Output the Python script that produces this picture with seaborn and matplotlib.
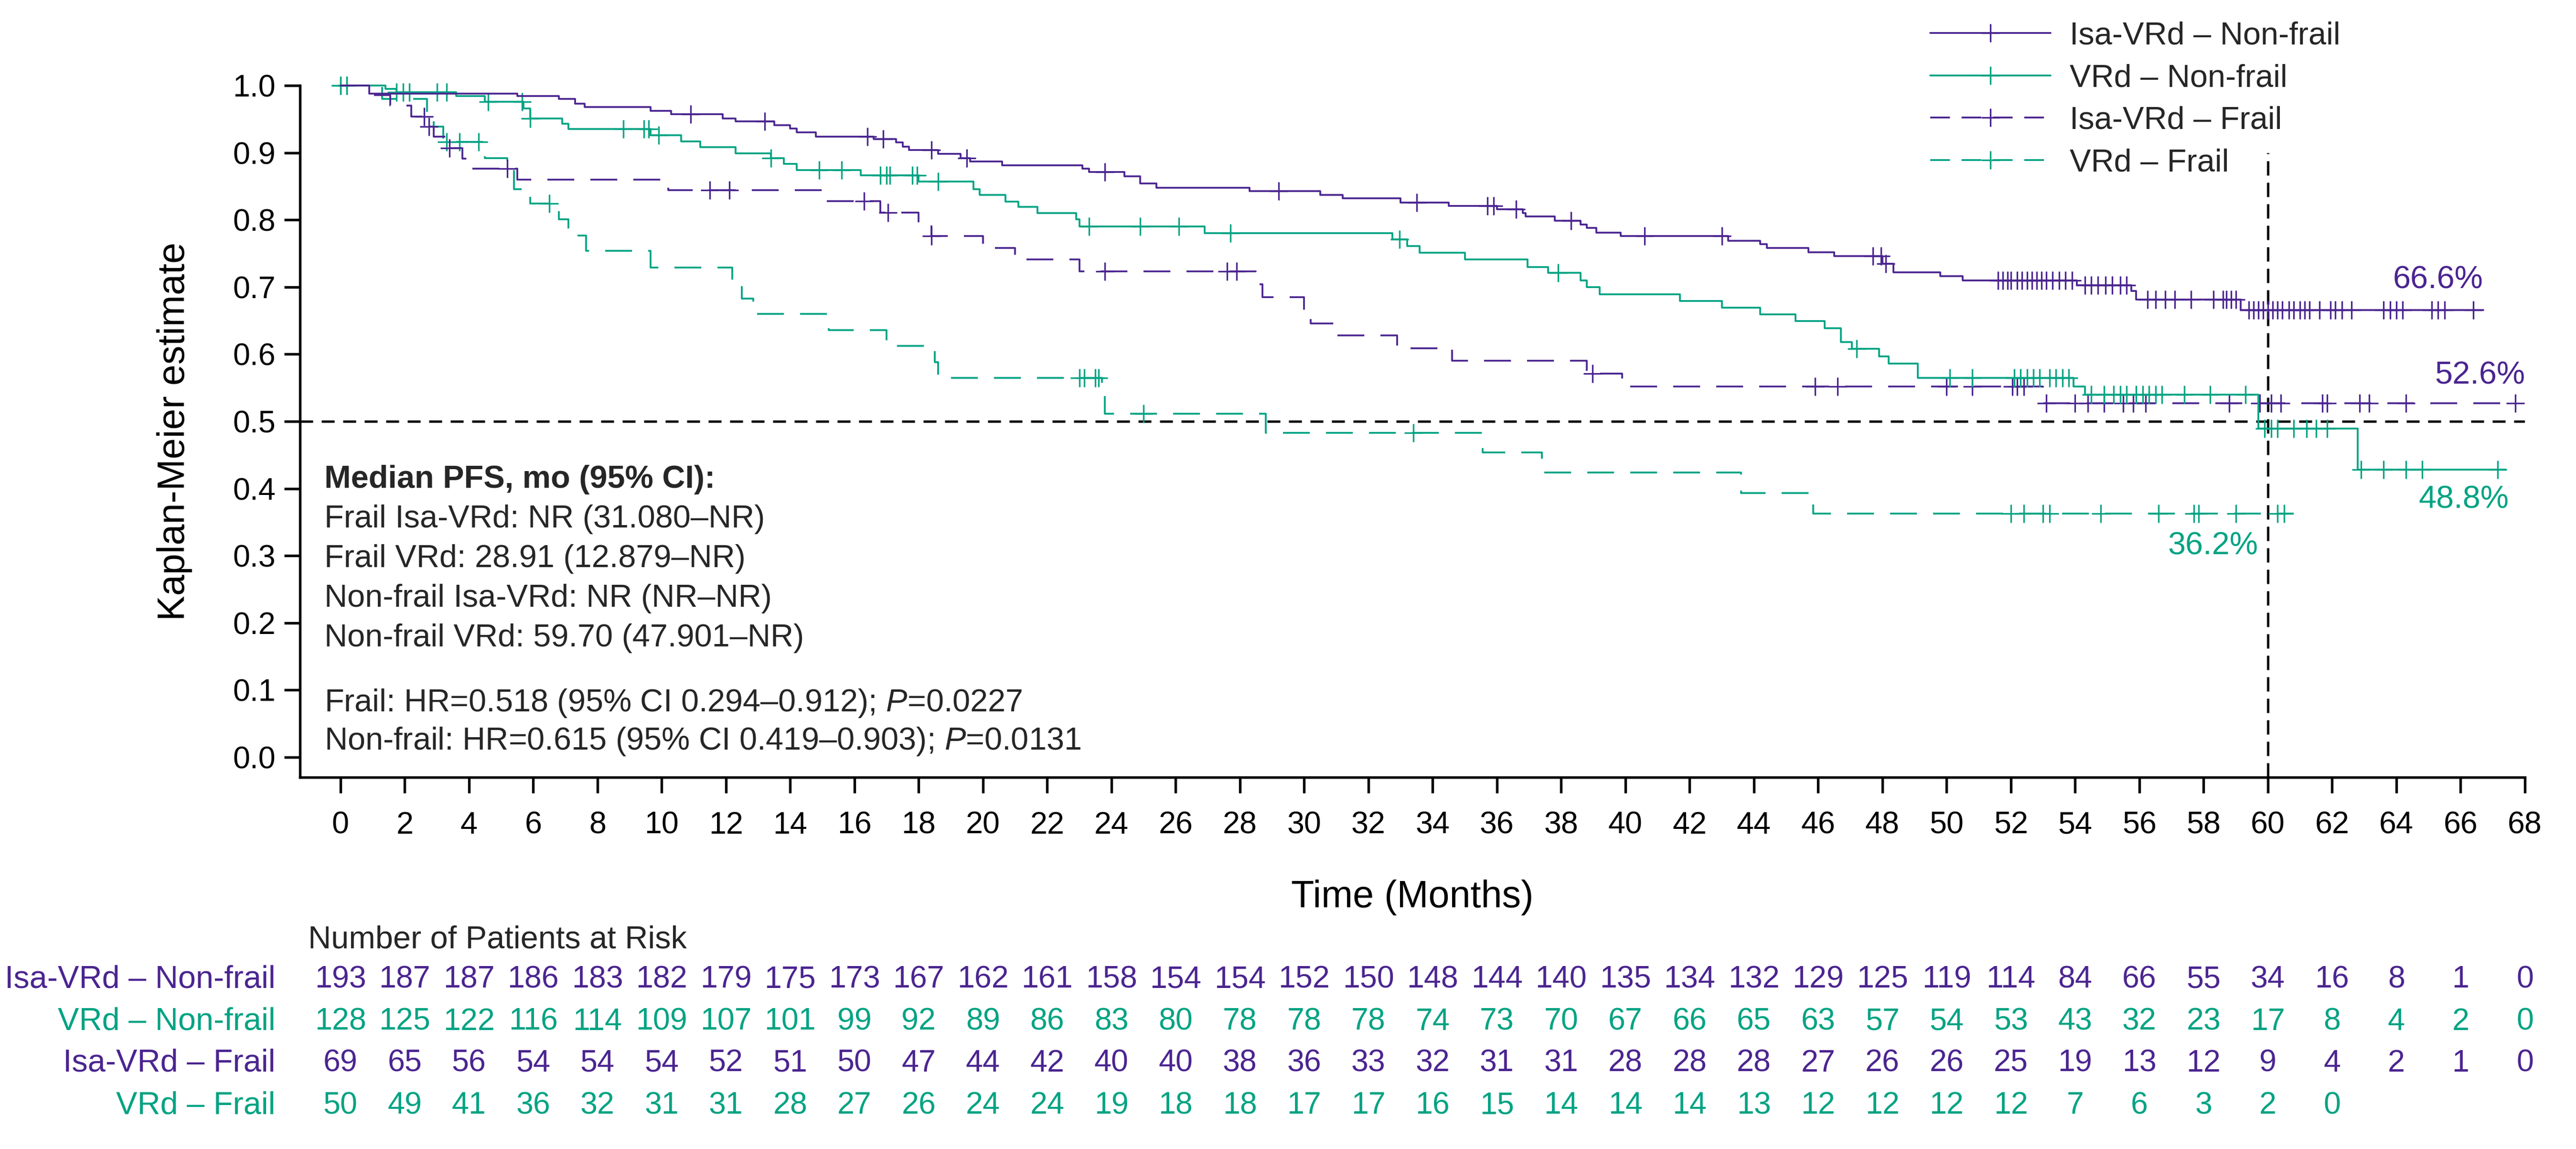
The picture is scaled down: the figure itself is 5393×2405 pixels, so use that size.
import numpy as np
import matplotlib
matplotlib.use("Agg")
import matplotlib.pyplot as plt
from matplotlib.lines import Line2D
from matplotlib.ticker import FormatStrFormatter
import seaborn as sns

sns.set_theme(style="ticks")
plt.rcParams['font.family'] = ['Liberation Sans', 'DejaVu Sans']
plt.rcParams['mathtext.fontset'] = 'custom'
plt.rcParams['mathtext.rm'] = 'Liberation Sans'
plt.rcParams['mathtext.it'] = 'Liberation Sans:italic'

PURPLE = '#4b2590'
TEAL = '#00a383'

# ---- KM curves (months, survival) ----
inv_nf_t = [0, 0.9, 5.5, 6.8, 7.3, 7.6, 9.65, 10.3, 11.9, 12.3, 13.5, 14.0, 14.2, 14.8, 16.6,
            17.3, 17.5, 17.7, 18.6, 19.3, 19.6, 20.6, 23.1, 23.3, 24.4, 24.9, 25.4, 28.3, 30.5,
            31.2, 33.0, 34.5, 36.0, 36.8, 36.9, 37.8, 38.6, 38.8, 39.1, 39.85, 43.2, 44.2, 44.4,
            45.7, 46.5, 48.0, 48.35, 49.8, 50.5, 54.05, 55.75, 55.9, 59.15, 66.7]
inv_nf_s = [1.0, 0.988, 0.984, 0.980, 0.973, 0.968, 0.962, 0.957, 0.951, 0.947, 0.941, 0.936,
            0.930, 0.924, 0.920, 0.915, 0.909, 0.904, 0.898, 0.892, 0.887, 0.881, 0.876, 0.871,
            0.865, 0.854, 0.848, 0.843, 0.837, 0.832, 0.826, 0.821, 0.816, 0.810, 0.805, 0.799,
            0.793, 0.788, 0.781, 0.776, 0.769, 0.764, 0.758, 0.752, 0.746, 0.735, 0.722, 0.716,
            0.710, 0.703, 0.694, 0.681, 0.666, 0.666]
inv_nf_cens = [10.9, 13.2, 16.4, 16.9, 18.4, 19.5, 23.8, 29.2, 33.5, 35.7, 35.9, 36.6, 38.3,
               40.6, 43.0, 47.7, 47.95, 48.1, 51.6, 51.75, 51.9, 52.0, 52.2, 52.35, 52.5, 52.65,
               52.8, 52.95, 53.1, 53.3, 53.5, 53.7, 53.9, 54.3, 54.5, 54.7, 54.95, 55.15, 55.4,
               55.6, 56.25, 56.5, 56.8, 57.1, 57.6, 58.3, 58.6, 58.7, 58.85, 59.0, 59.4, 59.55,
               59.7, 59.85, 60.0, 60.15, 60.3, 60.45, 60.65, 60.8, 61.0, 61.15, 61.3, 61.6, 61.95,
               62.1, 62.3, 62.6, 63.6, 63.8, 64.0, 64.2, 65.1, 65.3, 65.5, 66.4]

vrd_nf_t = [0, 1.4, 1.75, 3.6, 4.5, 5.7, 5.9, 6.9, 7.1, 9.65, 10.6, 11.2, 12.3, 13.4, 13.8, 14.2,
            16.2, 18.0, 19.7, 19.9, 20.7, 21.1, 21.7, 22.9, 23.0, 26.9, 32.75, 33.2, 33.6, 35.0,
            36.95, 37.6, 38.6, 38.8, 39.2, 41.7, 43.0, 44.2, 45.3, 46.2, 46.7, 47.05, 47.9, 48.2,
            49.1, 53.95, 54.3, 59.7, 62.8, 67.4]
vrd_nf_s = [1.0, 0.995, 0.990, 0.984, 0.976, 0.966, 0.951, 0.943, 0.935, 0.926, 0.917, 0.908,
            0.899, 0.892, 0.883, 0.874, 0.866, 0.857, 0.846, 0.837, 0.827, 0.819, 0.810, 0.801,
            0.790, 0.780, 0.771, 0.761, 0.751, 0.741, 0.730, 0.721, 0.710, 0.700, 0.689, 0.679,
            0.669, 0.659, 0.649, 0.639, 0.618, 0.608, 0.597, 0.586, 0.565, 0.552, 0.540, 0.489,
            0.428, 0.428]
vrd_nf_cens = [0.0, 0.2, 1.75, 1.95, 2.15, 3.0, 3.3, 4.6, 5.65, 5.9, 8.8, 9.45, 9.6, 9.9, 13.4,
               14.9, 15.6, 16.8, 17.0, 17.1, 17.8, 17.95, 18.6, 23.3, 24.9, 26.1, 27.7, 32.97,
               37.9, 47.2, 50.1, 50.8, 52.1, 52.3, 52.5, 52.7, 52.9, 53.2, 53.4, 53.6, 53.8, 54.5,
               54.9, 55.2, 55.4, 55.6, 55.9, 56.1, 56.3, 56.5, 56.7, 57.4, 58.2, 59.3, 59.9, 60.1,
               60.3, 60.8, 61.2, 61.5, 61.85, 62.9, 63.6, 64.3, 64.8, 67.15]

inv_f_t = [0, 0.8, 1.55, 2.2, 2.7, 2.9, 3.3, 3.8, 4.1, 5.5, 10.2, 15.1, 16.8, 18.0, 18.4, 20.0,
           21.0, 23.0, 28.5, 28.7, 30.0, 30.2, 31.0, 32.9, 34.6, 38.8, 39.9, 53.0, 67.7]
inv_f_s = [1.0, 0.986, 0.970, 0.954, 0.939, 0.924, 0.907, 0.891, 0.876, 0.860, 0.844, 0.828,
           0.811, 0.792, 0.776, 0.758, 0.741, 0.723, 0.704, 0.685, 0.666, 0.646, 0.628, 0.609,
           0.590, 0.571, 0.552, 0.527, 0.527]
inv_f_cens = [2.6, 2.75, 3.4, 5.2, 11.5, 12.1, 16.3, 17.05, 18.4, 23.8, 27.6, 27.9, 38.97, 45.9,
              46.6, 50.0, 50.8, 52.05, 52.2, 52.4, 53.1, 54.0, 54.4, 54.9, 55.5, 55.8, 56.2, 58.8,
              59.75, 60.1, 60.4, 61.7, 61.85, 62.85, 63.15, 64.3, 67.7]

vrd_f_t = [0, 1.3, 2.7, 2.9, 3.2, 4.5, 5.2, 5.4, 5.9, 6.8, 7.1, 7.65, 9.66, 12.2, 12.5, 12.85,
           15.2, 17.0, 18.5, 18.6, 23.7, 23.8, 28.8, 35.56, 37.4, 43.6, 45.85, 60.8]
vrd_f_s = [1.0, 0.980, 0.958, 0.939, 0.916, 0.892, 0.874, 0.846, 0.824, 0.801, 0.777, 0.754,
           0.729, 0.706, 0.683, 0.660, 0.636, 0.612, 0.588, 0.565, 0.538, 0.511, 0.483, 0.454,
           0.424, 0.393, 0.363, 0.363]
vrd_f_cens = [0.0, 0.2, 3.3, 3.7, 4.3, 6.5, 23.0, 23.15, 23.5, 23.6, 25.0, 33.4, 52.0, 52.4,
              53.0, 53.2, 54.8, 56.6, 57.7, 57.85, 59.0, 60.3, 60.5]

# ---- numbers at risk ----
risk_months = list(range(0, 69, 2))
risk_labels = ['Isa-VRd – Non-frail', 'VRd – Non-frail', 'Isa-VRd – Frail', 'VRd – Frail']
risk_inv_nf = [193, 187, 187, 186, 183, 182, 179, 175, 173, 167, 162, 161, 158, 154, 154, 152,
               150, 148, 144, 140, 135, 134, 132, 129, 125, 119, 114, 84, 66, 55, 34, 16, 8, 1, 0]
risk_vrd_nf = [128, 125, 122, 116, 114, 109, 107, 101, 99, 92, 89, 86, 83, 80, 78, 78, 78, 74,
               73, 70, 67, 66, 65, 63, 57, 54, 53, 43, 32, 23, 17, 8, 4, 2, 0]
risk_inv_f = [69, 65, 56, 54, 54, 54, 52, 51, 50, 47, 44, 42, 40, 40, 38, 36, 33, 32, 31, 31, 28,
              28, 28, 27, 26, 26, 25, 19, 13, 12, 9, 4, 2, 1, 0]
risk_vrd_f = [50, 49, 41, 36, 32, 31, 31, 28, 27, 26, 24, 24, 19, 18, 18, 17, 17, 16, 15, 14, 14,
              14, 13, 12, 12, 12, 12, 7, 6, 3, 2, 0]

median_lines = ['Frail Isa-VRd: NR (31.080–NR)',
                'Frail VRd: 28.91 (12.879–NR)',
                'Non-frail Isa-VRd: NR (NR–NR)',
                'Non-frail VRd: 59.70 (47.901–NR)']
hr_lines = ['Frail: HR=0.518 (95% CI 0.294–0.912); $\\mathit{P}$=0.0227',
            'Non-frail: HR=0.615 (95% CI 0.419–0.903); $\\mathit{P}$=0.0131']

DASH = (0, (15, 9))

fig = plt.figure(figsize=(5393 / 300, 2405 / 300), dpi=300)
ax = fig.add_axes([0.11645, 0.32349, 0.86371, 0.60208])


def draw_curve(times, surv, cens, color, ls):
    sns.lineplot(x=times, y=surv, ax=ax, color=color, linewidth=0.9, linestyle=ls,
                 drawstyle='steps-post', estimator=None, sort=False, clip_on=False)
    t = np.asarray(cens)
    idx = np.searchsorted(times, t, side='right') - 1
    ax.plot(t, np.asarray(surv)[idx], linestyle='none', marker='+', markersize=9,
            markeredgewidth=0.8, color=color, clip_on=False)


draw_curve(vrd_f_t, vrd_f_s, vrd_f_cens, TEAL, DASH)
draw_curve(inv_f_t, inv_f_s, inv_f_cens, PURPLE, DASH)
draw_curve(vrd_nf_t, vrd_nf_s, vrd_nf_cens, TEAL, '-')
draw_curve(inv_nf_t, inv_nf_s, inv_nf_cens, PURPLE, '-')

# reference lines
ax.axhline(0.5, color='black', lw=1.2, linestyle=(0, (5.4, 3.6)), zorder=1)
ax.vlines(60, -0.03, 0.9, color='black', lw=1.2, linestyles=[(0, (6, 3))], zorder=1)

ax.set_xlim(-1.26, 68)
ax.set_ylim(-0.03, 1.0)
ax.set_xticks(risk_months)
ax.set_yticks([0.0, 0.1, 0.2, 0.3, 0.4, 0.5, 0.6, 0.7, 0.8, 0.9, 1.0])
ax.yaxis.set_major_formatter(FormatStrFormatter('%.1f'))
ax.tick_params(axis='both', length=8, width=1.3, labelsize=15.5, colors='black')
ax.tick_params(axis='x', pad=9)
ax.tick_params(axis='y', pad=4.3)
for side in ['top', 'right']:
    ax.spines[side].set_visible(False)
for side in ['left', 'bottom']:
    ax.spines[side].set_linewidth(1.3)
    ax.spines[side].set_color('black')

ax.set_xlabel('Time (Months)', fontsize=19, color='black')
ax.xaxis.label.set_va('center')
ax.xaxis.set_label_coords(0.5, -0.174)
ax.set_ylabel('Kaplan-Meier estimate', fontsize=19, color='black')
ax.yaxis.label.set_va('center')
ax.yaxis.set_label_coords(-0.0563, 0.5)

# percentages at 60 months
ax.text(66.7, 0.71, '66.6%', color=PURPLE, fontsize=16, ha='right', va='center')
ax.text(68.0, 0.568, '52.6%', color=PURPLE, fontsize=16, ha='right', va='center')
ax.text(67.5, 0.383, '48.8%', color=TEAL, fontsize=16, ha='right', va='center')
ax.text(59.7, 0.314, '36.2%', color=TEAL, fontsize=16, ha='right', va='center')

# median PFS / HR block
ax.text(-0.5, 0.413, 'Median PFS, mo (95% CI):', fontsize=16, fontweight='bold',
        ha='left', va='center')
for i, line in enumerate(median_lines):
    ax.text(-0.5, 0.354 - i * 0.059, line, fontsize=16, ha='left', va='center')
for i, line in enumerate(hr_lines):
    ax.text(-0.5, 0.080 - i * 0.057, line, fontsize=16, ha='left', va='center')

# legend
handles = [
    Line2D([], [], color=PURPLE, lw=0.9, marker='+', ms=9, mew=0.8),
    Line2D([], [], color=TEAL, lw=0.9, marker='+', ms=9, mew=0.8),
    Line2D([], [], color=PURPLE, lw=0.9, linestyle=(0, (11, 6.5)), marker='+', ms=9, mew=0.8),
    Line2D([], [], color=TEAL, lw=0.9, linestyle=(0, (11, 6.5)), marker='+', ms=9, mew=0.8),
]
fig.legend(handles, risk_labels, loc='upper left', bbox_to_anchor=(0.7493, 0.9815),
           bbox_transform=fig.transFigure, frameon=False, fontsize=16, borderpad=0,
           borderaxespad=0, handlelength=3.78, handletextpad=0.6, labelspacing=0.4)

# numbers at risk table
ax.text(-1.01, -0.272, 'Number of Patients at Risk', fontsize=16, ha='left', va='center')
risk_rows = [risk_inv_nf, risk_vrd_nf, risk_inv_f, risk_vrd_f]
row_colors = [PURPLE, TEAL, PURPLE, TEAL]
row_y = [-0.331, -0.394, -0.456, -0.519]
for label, row, col, y in zip(risk_labels, risk_rows, row_colors, row_y):
    ax.text(-2.02, y, label, color=col, fontsize=16, ha='right', va='center')
    for m, n in zip(risk_months, row):
        ax.text(m, y, str(n), color=col, fontsize=15.5, ha='center', va='center')

fig.savefig('out.png', dpi=300)
